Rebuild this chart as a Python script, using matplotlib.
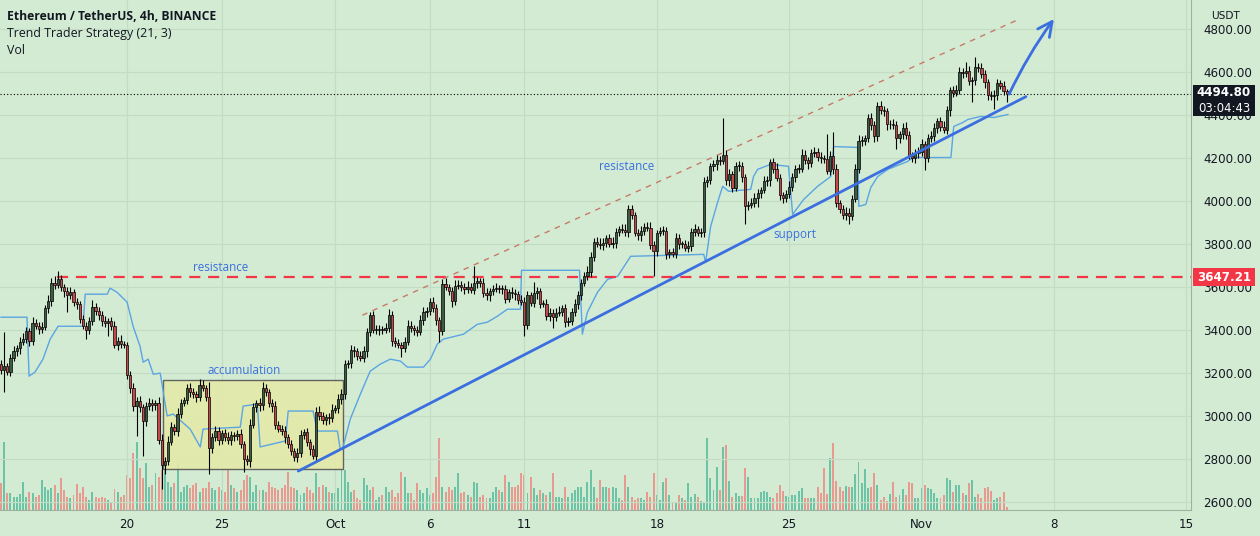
import matplotlib
matplotlib.use("Agg")
import matplotlib.pyplot as plt
from matplotlib.patches import Rectangle, FancyArrowPatch
import numpy as np

# ---------------- data (4h candles, ETH/USDT, from Sep 13 08:00) ----------------
open0 = 3240
close = [
    3215, 3230, 3205, 3270, 3300, 3315, 3345, 3360, 3395, 3350,
    3430, 3420, 3405, 3415, 3500, 3535, 3620, 3610, 3635, 3600,
    3580, 3560, 3575, 3530, 3520, 3450, 3420, 3400, 3440, 3505,
    3490, 3470, 3440, 3430, 3440, 3420, 3330, 3350, 3335, 3330,
    3190, 3130, 3045, 3070, 3040, 2975, 3045, 3060, 3050, 3060,
    2890, 2770, 2790, 2880, 2950, 2930, 3010, 3060, 3075, 3130,
    3110, 3100, 3090, 3145, 3130, 3090, 2850, 2900, 2930, 2890,
    2920, 2900, 2890, 2910, 2905, 2915, 2870, 2800, 2790, 2960,
    3040, 3060, 3050, 3130, 3110, 3060, 3045, 2960, 2940, 2930,
    2900, 2870, 2835, 2810, 2830, 2910, 2925, 2880, 2845, 2815,
    3020, 3000, 2980, 2995, 2990, 3030, 3035, 3080, 3100, 3240,
    3245, 3305, 3300, 3280, 3270, 3300, 3390, 3470, 3400, 3400,
    3405, 3400, 3410, 3470, 3350, 3340, 3330, 3315, 3345, 3420,
    3410, 3400, 3390, 3445, 3485, 3490, 3530, 3500, 3445, 3395,
    3615, 3600, 3580, 3535, 3605, 3610, 3600, 3590, 3600, 3585,
    3620, 3625, 3620, 3570, 3560, 3580, 3590, 3595, 3590, 3590,
    3545, 3575, 3570, 3565, 3540, 3530, 3425, 3560, 3525, 3570,
    3580, 3520, 3520, 3465, 3480, 3462, 3480, 3485, 3500, 3437,
    3440, 3485, 3520, 3560, 3620, 3650, 3670, 3740, 3810, 3800,
    3795, 3805, 3825, 3800, 3805, 3855, 3870, 3865, 3855, 3960,
    3935, 3850, 3840, 3860, 3880, 3875, 3795, 3765, 3850, 3860,
    3860, 3755, 3760, 3755, 3825, 3800, 3800, 3780, 3790, 3855,
    3870, 3850, 3855, 4085, 4095, 4160, 4170, 4190, 4185, 4215,
    4095, 4125, 4060, 4160, 4160, 4110, 3975, 3980, 3990, 4015,
    4035, 4050, 4090, 4095, 4180, 4150, 4105, 4025, 4015, 4030,
    4065, 4110, 4150, 4150, 4215, 4190, 4175, 4220, 4225, 4205,
    4200, 4195, 4140, 4210, 4150, 3990, 3960, 3935, 3945, 3930,
    4010, 4150, 4280, 4280, 4290, 4385, 4350, 4300, 4440, 4420,
    4415, 4355, 4355, 4350, 4290, 4310, 4340, 4305, 4210, 4200,
    4220, 4225, 4265, 4200, 4290, 4300, 4340, 4370, 4345, 4330,
    4420, 4515, 4500, 4515, 4600, 4595, 4605, 4555, 4560, 4620,
    4615, 4590, 4550, 4490, 4485, 4490, 4545, 4535, 4510, 4494.8,
]
wick_up = [
    20, 160, 15, 20, 25, 15, 20, 25, 20, 15, 30, 20, 15, 20, 15, 25, 20, 30, 37, 20,
    15, 20, 25, 15, 20, 15, 20, 15, 20, 35, 20, 15, 20, 25, 15, 20, 20, 15, 25, 15,
    15, 20, 25, 20, 25, 15, 20, 25, 20, 15, 30, 25, 20, 25, 20, 15, 25, 20, 15, 20,
    25, 20, 15, 25, 20, 15, 70, 20, 25, 20, 15, 20, 25, 20, 15, 20, 25, 15, 20, 25,
    20, 15, 25, 30, 20, 15, 20, 25, 15, 20, 25, 15, 20, 15, 20, 25, 15, 20, 15, 20,
    20, 25, 20, 15, 20, 25, 15, 20, 25, 20, 15, 25, 20, 15, 20, 25, 20, 15, 20, 25,
    20, 15, 20, 25, 20, 15, 20, 15, 20, 25, 20, 15, 20, 25, 20, 15, 20, 25, 20, 15,
    20, 25, 15, 20, 25, 20, 15, 20, 25, 20, 75, 20, 15, 20, 25, 15, 20, 25, 15, 20,
    20, 15, 25, 20, 15, 20, 25, 20, 15, 51, 20, 15, 20, 25, 20, 15, 20, 25, 15, 20,
    20, 15, 25, 20, 15, 20, 25, 20, 15, 20, 25, 20, 15, 20, 25, 20, 15, 20, 25, 20,
    20, 15, 20, 25, 15, 20, 25, 20, 15, 20, 25, 20, 15, 20, 25, 20, 15, 20, 25, 20,
    20, 15, 20, 25, 20, 15, 20, 25, 20, 170, 20, 25, 15, 20, 25, 20, 15, 20, 25, 20,
    20, 15, 25, 20, 15, 20, 25, 20, 15, 20, 25, 20, 15, 20, 25, 20, 15, 20, 25, 20,
    20, 15, 115, 20, 110, 20, 15, 20, 25, 20, 15, 20, 25, 20, 15, 20, 25, 20, 20, 25,
    20, 15, 20, 25, 20, 15, 20, 25, 20, 15, 20, 25, 20, 15, 20, 25, 20, 15, 20, 25,
    20, 15, 20, 25, 20, 15, 42, 20, 15, 50, 20, 25, 20, 15, 20, 25, 20, 15, 20, 10,
]
wick_dn = [
    20, 105, 15, 20, 15, 20, 25, 15, 20, 25, 20, 15, 25, 20, 15, 20, 25, 20, 15, 20,
    25, 78, 15, 20, 25, 20, 15, 43, 20, 15, 20, 25, 20, 15, 59, 20, 15, 25, 20, 15,
    20, 25, 20, 138, 20, 161, 20, 15, 25, 20, 20, 110, 40, 20, 15, 20, 25, 20, 15, 20,
    20, 15, 25, 20, 15, 20, 120, 20, 15, 25, 20, 15, 20, 25, 20, 15, 20, 60, 20, 25,
    15, 20, 25, 20, 15, 20, 25, 20, 15, 20, 25, 20, 15, 20, 25, 20, 15, 20, 25, 15,
    25, 20, 15, 20, 25, 20, 15, 20, 25, 20, 15, 20, 25, 20, 15, 20, 25, 20, 15, 20,
    25, 20, 15, 20, 25, 20, 15, 42, 20, 15, 20, 25, 20, 15, 20, 25, 20, 15, 20, 52,
    20, 15, 20, 30, 20, 15, 20, 25, 20, 15, 20, 25, 20, 15, 20, 25, 20, 15, 20, 25,
    20, 15, 20, 25, 20, 15, 55, 20, 15, 20, 25, 20, 15, 20, 25, 55, 20, 15, 20, 25,
    20, 15, 20, 25, 20, 15, 20, 25, 20, 15, 20, 25, 20, 15, 20, 25, 20, 15, 20, 25,
    20, 15, 20, 25, 20, 15, 20, 115, 20, 15, 20, 25, 20, 15, 20, 25, 20, 15, 20, 25,
    20, 15, 20, 25, 20, 15, 20, 25, 20, 15, 20, 25, 20, 15, 20, 25, 85, 20, 15, 20,
    45, 20, 15, 20, 25, 20, 15, 20, 25, 20, 15, 20, 25, 20, 15, 20, 25, 20, 15, 20,
    25, 20, 15, 20, 25, 20, 15, 20, 25, 40, 20, 15, 20, 25, 20, 15, 20, 25, 20, 15,
    20, 25, 20, 15, 50, 20, 25, 20, 15, 20, 25, 20, 15, 55, 20, 15, 20, 25, 20, 15,
    20, 25, 20, 15, 20, 25, 20, 15, 95, 20, 15, 20, 25, 20, 15, 60, 20, 15, 20, 38,
]
volume = [  # thousand ETH
    27, 68, 17, 17, 13, 13, 16, 28, 13, 18, 17, 13, 15, 30, 23, 20, 22, 25, 17, 32,
    20, 13, 12, 15, 26, 17, 23, 13, 10, 18, 13, 12, 13, 12, 10, 8, 21, 18, 13, 15,
    35, 32, 57, 68, 42, 32, 47, 23, 25, 37, 33, 40, 40,
    28, 23, 27, 46, 18, 23, 25, 22, 25, 27, 18, 22, 22, 28, 22, 20, 23, 20, 18, 40,
    25, 22, 18, 20, 30, 35, 33, 18, 25, 20, 20, 18, 28, 23, 22, 20, 22, 25, 38, 23,
    22, 20, 15, 17, 23, 20, 17, 37, 23, 25, 23, 18, 17,
    17, 22, 40, 40, 28, 18, 20, 12, 10, 32, 25, 20, 23, 10, 13, 15, 23, 18, 20, 13,
    17, 38, 33, 17, 17, 10, 27, 20, 17, 22, 15, 17, 33, 72, 23, 18, 23, 20, 23, 37,
    17, 18, 15, 13, 28, 27, 13, 15, 12, 12, 18, 23, 20, 18, 35, 28, 23, 23, 25, 37,
    35, 17, 33, 22, 15, 20, 17, 15, 18, 37, 13, 13, 12, 23, 13, 17, 20, 23, 23, 13,
    28, 40, 23, 12, 30, 23, 23, 22, 23, 22, 12, 10, 35, 23, 13, 10, 12, 12, 10, 18,
    13, 37, 15, 10, 28, 32, 15, 8,
    8, 15, 12, 10, 27, 13, 16, 13, 9, 8, 72, 32, 20, 43, 20, 63, 65, 29, 13, 17,
    14, 14, 42, 33, 12, 12, 12, 18, 19, 18, 13, 12, 17, 25, 19, 14, 13, 15, 15,
    19, 22, 12, 12, 12, 12, 23, 17, 42, 16, 52, 67, 29, 23, 19, 24, 23, 23, 36, 48,
    27, 41, 22, 23, 37, 25, 10, 13, 9, 16, 28, 13, 15, 21, 15, 28, 27, 12, 12, 22,
    25, 22, 21, 17, 12, 12, 15, 32, 30, 18, 25, 25, 17, 15, 27, 30, 13, 16, 12, 22,
    23, 19, 10, 12, 13, 18, 3,
]
# Trend Trader Strategy line (candle index, price)
tts_idx = [0, 8.25, 8.9, 10.8, 13.3, 15.6, 18.1, 26.0, 26.7, 33.7, 34.6, 36.8, 40.0,
           41.9, 44.1, 45.1, 46.7, 48.3, 50.5, 52.7, 54.6, 60.0, 63.2, 64.1, 75.9,
           76.8, 81.3, 82.2, 90.2, 91.1, 99.0, 100.3, 106.7, 107.6, 108.3, 110.8,
           114.0, 117.1, 120.3, 123.5, 126.7, 128.9, 134.0, 136.2, 138.4, 140.3,
           146.7, 151.1, 154.3, 157.5, 160.6, 164.8, 165.1, 183.5, 184.4, 186.0,
           189.2, 192.4, 195.6, 198.7, 199.7, 222.9, 223.5, 225.1, 227.3, 228.9,
           230.8, 237.8, 238.7, 240.0, 244.1, 249.8, 251.1, 254.6, 259.0, 263.2,
           264.1, 271.7, 272.1, 274.3, 275.9, 278.1, 281.3, 287.6, 289.2, 301.3,
           302.2, 305.1, 306.7, 310.8, 315.0, 319.4]
tts_val = [3459, 3459, 3185, 3204, 3264, 3357, 3417, 3417, 3566, 3566, 3594, 3575, 3529,
           3417, 3324, 3250, 3264, 3194, 3199, 3000, 3009, 2939, 2856, 2939, 2948,
           3046, 3055, 2856, 2884, 3023, 3023, 2930, 2930, 2846, 2846, 2986,
           3102, 3208, 3241, 3264, 3255, 3227, 3227, 3264, 3334, 3357,
           3380, 3426, 3436, 3464, 3496, 3496, 3677, 3677, 3380, 3482,
           3575, 3635, 3649, 3719, 3742, 3751, 3714, 3881, 3993, 4067,
           4044, 4053, 4113, 4146, 4169, 4160, 3937, 4006, 4067, 4113,
           4252, 4248, 3974, 3983, 4062, 4113, 4146, 4183, 4201, 4201,
           4345, 4364, 4378, 4392, 4387, 4401]

day_ticks = [40, 70, 106, 136, 166, 208, 250, 292, 334, 376]
day_labels = ['20', '25', 'Oct', '6', '11', '18', '25', 'Nov', '8', '15']
price_ticks = [2600, 2800, 3000, 3200, 3400, 3600, 3800, 4000, 4200, 4400, 4600, 4800]
resistance_level = 3647.21
last_price = 4494.80
countdown = '03:04:43'

# drawings (time index / price anchors)
accum_box = (51.4, 2754, 108.6, 3167)
support_line = ((94.3, 2744), (325.1, 4484))
channel_line = ((114.6, 3468), (321.9, 4837))
arrow_pts = ((319.4, 4484), (334.5, 4855))
notes = [('resistance', 69.8, 3691), ('accumulation', 77.1, 3213),
         ('resistance', 198.4, 4160), ('support', 251.7, 3844)]

# ---------------- style ----------------
W, H = 1260, 536
BG = '#d3ebd3'
GRID = '#c3dcc3'
UPC, DNC = '#3d5c44', '#c5484b'
VUP, VDN = '#6cc3a6', '#e79a8f'
BLUE = '#3b6fe0'
TXT = '#131722'
AXR, AXB = 1191, 510

fig = plt.figure(figsize=(W / 100, H / 100), dpi=100)
fig.patch.set_facecolor(BG)
rect = [0, 1 - AXB / H, AXR / W, AXB / H]
axv = fig.add_axes(rect, zorder=0)
ax = fig.add_axes(rect, zorder=1)
ax.set_facecolor('none')
axv.set_axis_off()

XMIN, XMAX = -0.317, 377.46
YMIN, YMAX = 2563.1, 4933.0

n = len(close)
idx = np.arange(n)
c = np.array(close, float)
o = np.concatenate([[open0], c[:-1]])
up = c >= o
hi = np.maximum(o, c) + np.array(wick_up)
lo = np.minimum(o, c) - np.array(wick_dn)

# volume
axv.bar(idx, volume, width=0.62, color=[VUP if u else VDN for u in up], linewidth=0)
axv.set_xlim(XMIN, XMAX)
axv.set_ylim(0, AXB)

# grid
ax.set_xlim(XMIN, XMAX)
ax.set_ylim(YMIN, YMAX)
ax.set_yticks(price_ticks)
ax.set_yticklabels([f'{p:.2f}' for p in price_ticks])
ax.set_xticks(day_ticks)
ax.set_xticklabels(day_labels)
ax.grid(True, color=GRID, lw=0.9, zorder=0)
ax.set_axisbelow(True)
ax.yaxis.tick_right()
ax.tick_params(axis='y', length=0, pad=9, labelsize=8.6, labelcolor=TXT)
ax.tick_params(axis='x', length=0, pad=6, labelsize=8.6, labelcolor=TXT)
for s in ['top', 'left']:
    ax.spines[s].set_visible(False)
for s in ['right', 'bottom']:
    ax.spines[s].set_color('#9fb09f')
    ax.spines[s].set_linewidth(0.8)

# accumulation box
bx0, by0, bx1, by1 = accum_box
ax.add_patch(Rectangle((bx0, by0), bx1 - bx0, by1 - by0, facecolor='#e3eaa8',
                       edgecolor='#555555', lw=1.0, alpha=0.9, zorder=1))

# trend trader strategy line
ax.plot(tts_idx, tts_val, color='#5aa5e2', lw=1.0, zorder=2)

# resistance horizontal
ax.hlines(resistance_level, 17.8, XMAX, colors='#f23645', lw=1.6,
          linestyles=(0, (5, 3.5)), zorder=2)
# last price dotted
ax.axhline(last_price, color='black', lw=0.8, ls=(0, (1, 2)), zorder=2)
# channel line
(cx0, cy0), (cx1, cy1) = channel_line
ax.plot([cx0, cx1], [cy0, cy1], color='#c97a68', lw=1.0, ls=(0, (4, 4)), zorder=2)

# candles
ax.vlines(idx, lo, hi, color='black', lw=0.8, zorder=3)
body_h = np.maximum(np.abs(c - o), 4)
ax.bar(idx, body_h, bottom=np.minimum(o, c), width=0.72,
       color=[UPC if u else DNC for u in up], edgecolor='black', linewidth=0.5, zorder=4)

# support line & arrow
(sx0, sy0), (sx1, sy1) = support_line
ax.plot([sx0, sx1], [sy0, sy1], color=BLUE, lw=2.0, zorder=5, solid_capstyle='round')
ax.add_patch(FancyArrowPatch(arrow_pts[0], arrow_pts[1], arrowstyle='->',
                             mutation_scale=26, connectionstyle='arc3,rad=-0.05',
                             color=BLUE, lw=2.0, zorder=5))

for t, xx, yy in notes:
    ax.text(xx, yy, t, color=BLUE, fontsize=8.4, ha='center', va='center',
            family='Open Sans', zorder=6)

# header
def fx(x):
    return x / W


def fy(y):
    return 1 - y / H


fig.text(fx(7), fy(17), 'Ethereum / TetherUS, 4h, BINANCE', fontsize=8.7,
         fontweight='bold', family='Open Sans', color=TXT, va='center')
fig.text(fx(7), fy(34), 'Trend Trader Strategy (21, 3)', fontsize=8.9,
         family='Open Sans', color=TXT, va='center')
fig.text(fx(7), fy(51), 'Vol', fontsize=8.9, family='Open Sans', color=TXT, va='center')
fig.text(fx(1226), fy(16), 'USDT', fontsize=7.6, color=TXT, ha='center', va='center')

# price labels
fig.add_artist(Rectangle((fx(1193), fy(116)), (1255 - 1193) / W, (116 - 85) / H,
                         transform=fig.transFigure, facecolor='#131722',
                         edgecolor='none', zorder=10))
fig.text(fx(1224), fy(93), f'{last_price:.2f}', color='white', fontsize=8.6,
         fontweight='bold', ha='center', va='center', zorder=11)
fig.text(fx(1224), fy(108.5), countdown, color='white', fontsize=8.4,
         ha='center', va='center', zorder=11)
fig.add_artist(Rectangle((fx(1193), fy(286)), (1255 - 1193) / W, (286 - 268) / H,
                         transform=fig.transFigure, facecolor='#f23645',
                         edgecolor='none', zorder=10))
fig.text(fx(1224), fy(277.5), f'{resistance_level:.2f}', color='white', fontsize=8.6,
         fontweight='bold', ha='center', va='center', zorder=11)

fig.savefig('out.png', dpi=100, facecolor=BG)
